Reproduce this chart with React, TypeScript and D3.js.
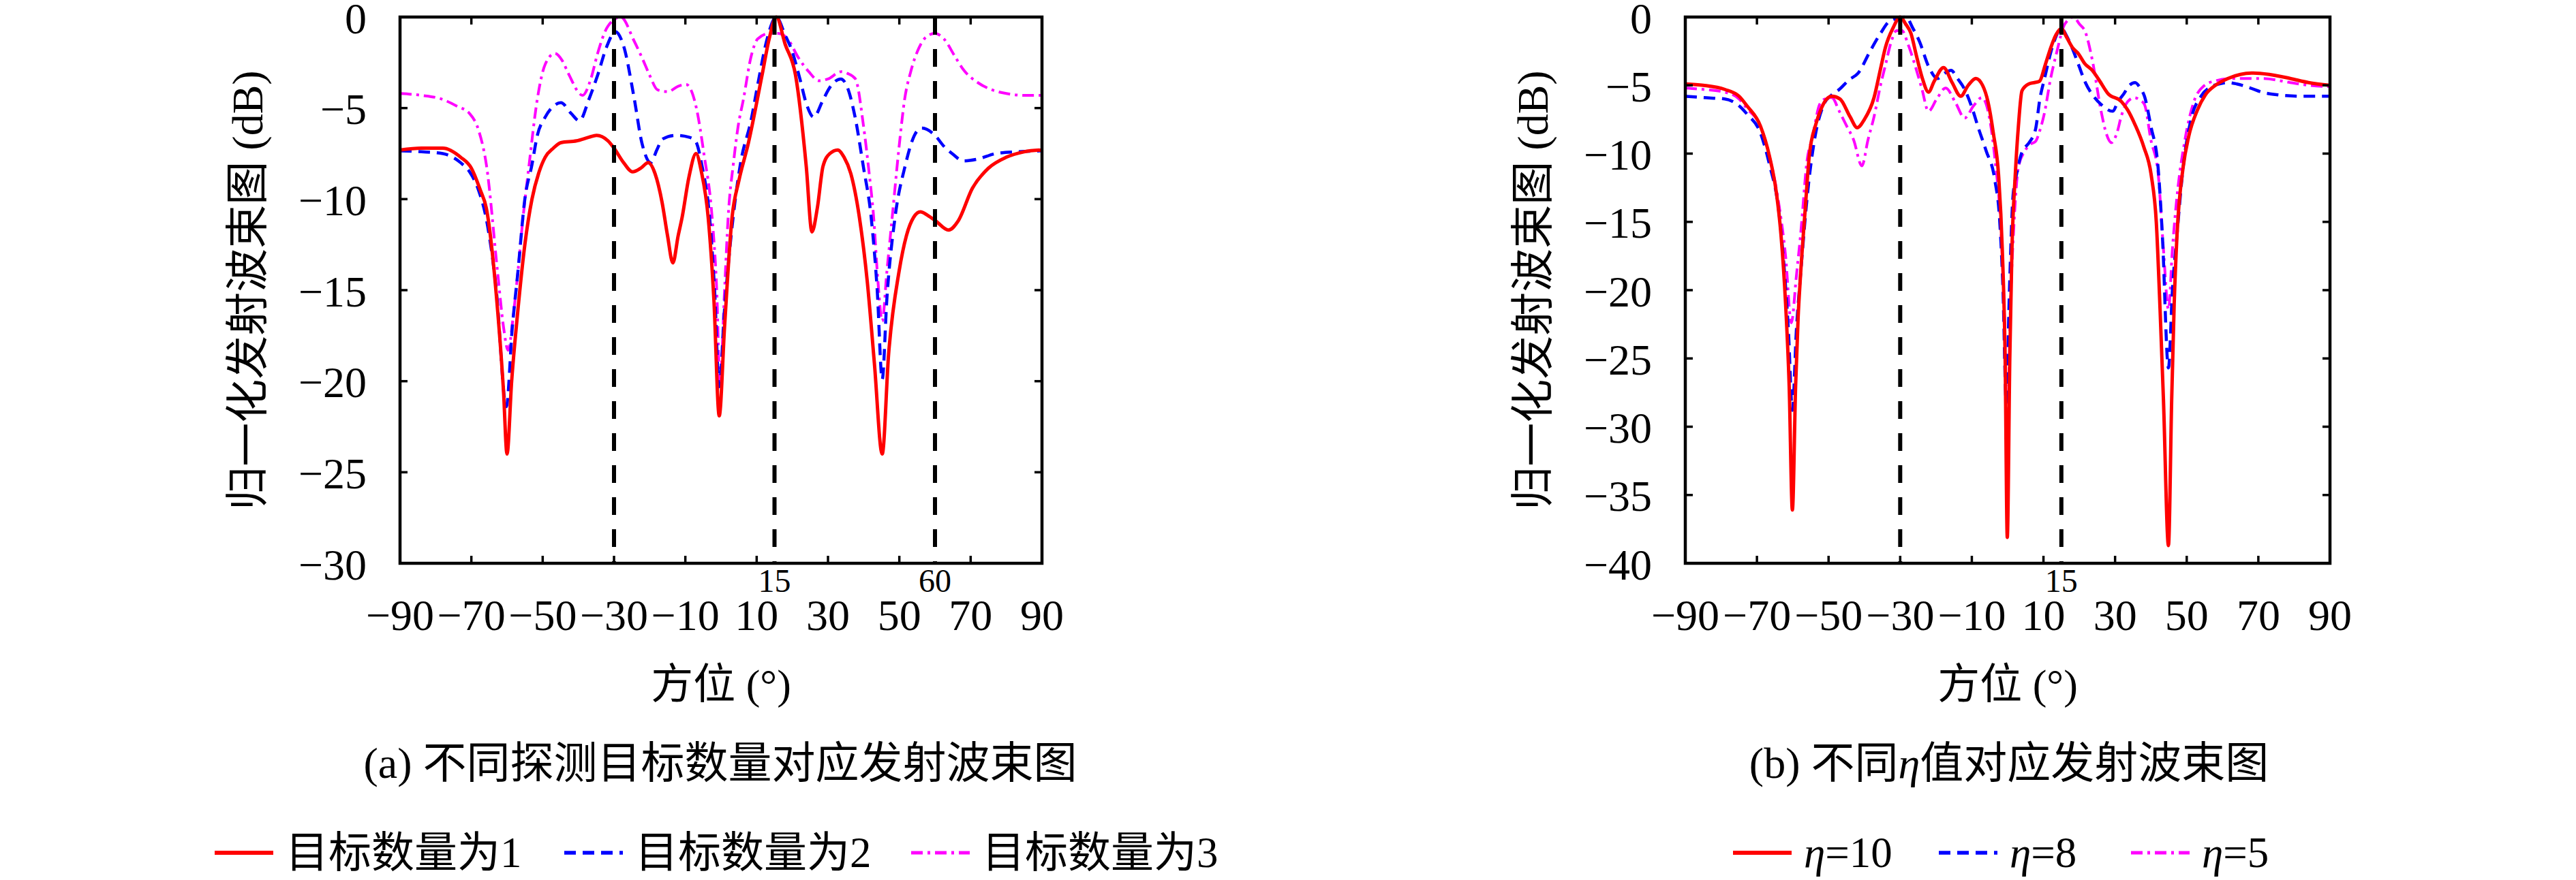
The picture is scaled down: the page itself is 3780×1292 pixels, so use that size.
import React, { useEffect } from 'react';
import * as d3 from 'd3';

type Pt = [number, number];

// ---------- data ----------
const xTickValues = [-90, -70, -50, -30, -10, 10, 30, 50, 70, 90];
const yTicksA = [0, -5, -10, -15, -20, -25, -30];
const yTicksB = [0, -5, -10, -15, -20, -25, -30, -35, -40];
const markersA = [-30, 15, 60];
const markerLabelsA = [15, 60];
const markersB = [-30, 15];
const markerLabelsB = [15];
const legendA = ['目标数量为1', '目标数量为2', '目标数量为3'];
const legendB = ['10', '8', '5'];
const captionA = '(a) 不同探测目标数量对应发射波束图';
const yLabel = '归一化发射波束图 (dB)';
const xLabel = '方位 (°)';

// (a) number of targets = 1
const aTarget1: Pt[] = [[-90,-7.3],[-84,-7.2],[-78,-7.2],[-73,-7.7],[-70,-8.3],[-67.5,-9.5],[-65.8,-10.5],[-62.6,-16.2],[-61,-20.5],[-60,-24],[-58.7,-20],[-57,-16.2],[-55,-12.5],[-53,-10],[-51,-8.5],[-49.3,-7.7],[-47,-7.2],[-44.9,-6.9],[-40.5,-6.8],[-37,-6.6],[-34.9,-6.5],[-31.7,-6.8],[-30,-7.2],[-27.3,-8.0],[-24.8,-8.5],[-22.5,-8.3],[-20.4,-8.0],[-18.5,-8.6],[-16.5,-10.2],[-15,-12],[-13.5,-13.5],[-12,-12],[-10.9,-11],[-9,-8.8],[-7,-7.5],[-5.5,-8.5],[-3.6,-11],[-2,-15.5],[-0.5,-21.9],[1,-17],[3.1,-11],[5,-9],[7.7,-6.9],[11.5,-3.2],[13.5,-1.2],[15.5,0],[18,-1.5],[20.9,-3.2],[23.9,-8.2],[25.5,-11.8],[27,-10.5],[28.6,-8.2],[30.5,-7.5],[32.7,-7.3],[34.5,-7.7],[36.4,-8.6],[38.8,-11],[41,-14.5],[43,-19],[45.2,-24],[47,-18.5],[49.9,-14],[52,-12],[54,-11],[55.9,-10.7],[58,-10.9],[60.2,-11.2],[63.8,-11.7],[66.5,-11.2],[70.5,-9.4],[75,-8.3],[80,-7.7],[85,-7.4],[90,-7.3]];

// (a) number of targets = 2
const aTarget2: Pt[] = [[-90,-7.35],[-84,-7.4],[-78,-7.5],[-73,-8],[-70.5,-8.5],[-68,-9.5],[-65.8,-11.1],[-63,-15],[-60.2,-21.4],[-58.5,-17],[-57,-14.1],[-55,-10],[-53,-8.1],[-51.5,-6.5],[-49.3,-5.5],[-47,-4.9],[-44.9,-4.7],[-42,-5.3],[-39.7,-5.7],[-37,-4.5],[-34.6,-3.2],[-32,-1.6],[-29.6,-0.8],[-27.3,-1.6],[-24.4,-4.4],[-22.2,-6.9],[-19.7,-8.0],[-18,-7.3],[-16.4,-6.7],[-12.8,-6.5],[-9,-6.6],[-7.2,-6.8],[-5.3,-8.2],[-3.2,-11],[-1.8,-15],[-0.5,-20.3],[1,-16],[3.4,-11],[5.5,-8],[8.4,-5.7],[10.5,-3.5],[12.8,-1.3],[15.5,0],[18,-1.0],[19.8,-1.8],[22,-3.3],[24,-4.8],[26,-5.5],[28.5,-4.6],[30.4,-3.9],[33.6,-3.4],[35.5,-3.9],[37.6,-5.5],[39.9,-8.2],[42.1,-11],[43.8,-15],[45.2,-19.9],[46.5,-15.5],[48.8,-11],[51.6,-8.2],[54.5,-6.4],[56.3,-6.1],[60,-6.5],[62.5,-7.1],[64.8,-7.5],[68,-7.9],[72,-7.8],[77,-7.5],[83,-7.4],[90,-7.35]];

// (a) number of targets = 3
const aTarget3: Pt[] = [[-90,-4.2],[-84,-4.3],[-78.4,-4.5],[-74,-4.9],[-70.5,-5.3],[-68,-6.2],[-65.8,-8.1],[-62.6,-14.1],[-61,-17],[-59.7,-18.3],[-58.3,-16.5],[-57,-14.1],[-55.5,-11],[-53.8,-8.1],[-51.5,-4.5],[-49.3,-2.6],[-46.6,-2.0],[-44.5,-2.4],[-42.8,-3.1],[-38.8,-4.3],[-36.5,-3.4],[-34.6,-2.0],[-31.7,-0.5],[-28.1,0],[-24.4,-1.3],[-22,-2.3],[-20,-3.2],[-17.8,-4.0],[-14.9,-4.1],[-12,-3.8],[-9.8,-3.7],[-6.9,-5.0],[-4.8,-7.5],[-2.5,-11],[-1.2,-15],[-0.3,-20.2],[1,-15],[2,-11],[3.5,-8],[4.8,-6.0],[6.3,-4.5],[8.4,-2.2],[10.3,-1.2],[13.6,-0.9],[16,-0.9],[18.7,-1.2],[21.6,-2.2],[24.6,-3.0],[27.5,-3.5],[30,-3.4],[33.7,-3.0],[35.5,-3.1],[37.7,-3.4],[39.9,-5.9],[41.5,-8.5],[42.8,-11],[44,-14.5],[45.2,-16.7],[46.5,-14],[48,-11],[50,-7],[51.5,-4.5],[53.2,-3.0],[55.5,-1.7],[57.5,-1.1],[60,-0.9],[62.5,-1.2],[65.7,-2.2],[68,-2.9],[72,-3.6],[76,-4.0],[80,-4.2],[85,-4.3],[90,-4.3]];

// (b) eta = 10
const bEta10: Pt[] = [[-90,-4.9],[-85,-5.0],[-79,-5.3],[-75,-5.8],[-72.8,-6.5],[-69,-8],[-66.5,-10.2],[-64.5,-13],[-63.3,-15.9],[-62,-21],[-61,-27],[-60.1,-36.1],[-59.2,-27],[-58.5,-22],[-57.8,-18.8],[-56.5,-14],[-55.4,-10.2],[-53.5,-7.8],[-52.2,-6.8],[-50.5,-6.0],[-49.1,-5.8],[-46.8,-6.0],[-44,-7.3],[-42,-8.1],[-40,-7.5],[-37.3,-5.9],[-35.5,-3.8],[-34.1,-2.2],[-32,-0.8],[-30,0],[-28.5,-0.5],[-27,-1.2],[-25.5,-2.8],[-23.8,-4.5],[-22.1,-5.5],[-20.5,-4.7],[-17.9,-3.7],[-15.5,-4.8],[-13.1,-5.8],[-11,-5.0],[-8.9,-4.5],[-7,-5.0],[-5.5,-6.2],[-4,-8.5],[-2.5,-11.7],[-1.5,-17],[-0.7,-25],[-0.1,-38.1],[0.6,-25],[1.2,-17],[2.1,-11.7],[3,-8],[4,-5.4],[5.9,-4.9],[7.5,-4.8],[8.9,-4.7],[10.5,-3.5],[12.1,-2.2],[13.5,-1.3],[15,-0.85],[16.5,-1.5],[18,-2.2],[19.8,-2.7],[21.5,-3.4],[23.6,-3.9],[25.5,-4.6],[28,-5.6],[31.8,-6.2],[33.5,-6.8],[35.6,-7.9],[38,-9.5],[40.1,-11.6],[41.5,-15],[42.6,-21.7],[43.5,-28],[44.9,-38.7],[45.8,-28],[46.5,-21],[47.3,-15.9],[49,-11],[50.5,-8.8],[53,-6.8],[55.2,-5.7],[58,-5.0],[61.5,-4.5],[65,-4.2],[68.6,-4.1],[73,-4.2],[78.9,-4.5],[84,-4.8],[90,-5.0]];

// (b) eta = 8
const bEta8: Pt[] = [[-90,-5.8],[-85,-5.9],[-79,-6.0],[-75,-6.5],[-72.8,-7.1],[-69,-8.5],[-66.5,-10.8],[-64,-14],[-62.5,-18],[-61.2,-23],[-60.1,-28.8],[-59,-23],[-57.8,-18.8],[-55.5,-12],[-53.8,-8.8],[-51.5,-6.5],[-49.1,-5.7],[-47,-5.3],[-44.3,-4.6],[-41.7,-4.1],[-38.6,-2.6],[-35.5,-1.2],[-32.9,-0.3],[-28.4,0],[-26.5,-0.8],[-24.6,-1.8],[-22.1,-3.6],[-19.6,-4.5],[-17.5,-4.1],[-15.8,-3.9],[-14,-4.5],[-12,-5.3],[-10,-6.6],[-8.2,-8.1],[-6,-9.8],[-3.6,-11.9],[-2.2,-15],[-1.3,-20],[-0.4,-28.2],[0.5,-20],[1.5,-13.1],[2.5,-11.5],[4.0,-9.9],[6,-9.2],[7.8,-8.2],[9,-6],[10.3,-4.5],[12.7,-2.0],[15,-0.85],[16.5,-1.4],[17.9,-2.2],[19.8,-3.5],[21.7,-4.8],[24,-5.8],[26.1,-6.4],[29.3,-6.9],[30.8,-6.2],[32.5,-5.6],[34,-5.0],[35.6,-4.8],[37,-5.2],[38.2,-5.8],[40,-8],[42,-11],[43.2,-16],[44.9,-25.7],[46,-20],[47.3,-15.9],[49,-11],[51.3,-7.4],[54,-5.8],[56.8,-5.1],[59,-4.9],[61.5,-4.8],[64,-4.9],[67.8,-5.2],[71,-5.5],[75.7,-5.7],[82,-5.8],[90,-5.8]];

// (b) eta = 5
const bEta5: Pt[] = [[-90,-5.2],[-85,-5.3],[-79,-5.5],[-75,-6.0],[-72.8,-6.7],[-69,-8],[-66.5,-10.2],[-64,-13.5],[-62,-17.5],[-60.4,-22.4],[-59,-19],[-57.8,-15.9],[-56,-10.5],[-54.5,-8.8],[-52.5,-6.4],[-51,-6.0],[-49.1,-5.9],[-47,-6.9],[-45.1,-7.9],[-43,-9],[-40.7,-10.9],[-39,-9],[-37.3,-7.3],[-35.5,-5],[-34.1,-3.5],[-32.5,-1.8],[-31,-1.0],[-29.5,-1.0],[-27.8,-2.0],[-25.9,-3.5],[-24,-5.2],[-22.1,-6.9],[-19.8,-6.0],[-17.3,-5.2],[-14.5,-6.3],[-12,-7.4],[-9.5,-6.5],[-7.2,-5.9],[-5,-7.5],[-3.5,-10.5],[-2,-15],[-1,-21],[-0.1,-30.2],[0.8,-21],[1.8,-15],[3,-11],[4.6,-9.9],[6.5,-9.3],[7.8,-9.1],[9,-8.3],[10.3,-7.0],[12,-4.5],[13.5,-2.8],[16,-0.5],[18.4,0],[20,-0.5],[21.7,-1.1],[23.6,-3.1],[26.1,-6.9],[27.5,-8.5],[29,-9.2],[30.5,-8.5],[31.8,-7.2],[33.5,-6.2],[35.4,-5.9],[37,-6.1],[38.2,-6.4],[40,-9],[42,-11.4],[43.5,-17],[44.9,-21.4],[46,-17],[47.3,-13.1],[49.5,-9],[52,-6.2],[55,-5.0],[57.6,-4.7],[63.1,-4.5],[71,-4.5],[78.9,-4.8],[84,-5.0],[90,-5.1]];

// ---------- styles ----------
const NUM_FONT = '"Liberation Serif", "Noto Sans CJK SC", serif';
const CJK_FONT = '"Liberation Serif", "Noto Sans CJK SC", sans-serif';

type LineStyle = { color: string; width: number; dash?: string };
const styles: LineStyle[] = [
  { color: '#ff0000', width: 5 },
  { color: '#0000ff', width: 4.5, dash: '17,10' },
  { color: '#ff00ff', width: 4, dash: '17,7,4,7' },
];

const fmt = (v: number) => (v < 0 ? '\u2212' + Math.abs(v) : String(v));

type PanelProps = {
  id: string;
  left: number;
  right: number;
  top: number;
  bottom: number;
  yMin: number;
  yTicks: number[];
  series: Pt[][];
  markers: number[];
  markerLabels: number[];
};

function Panel({ id, left, right, top, bottom, yMin, yTicks, series, markers, markerLabels }: PanelProps) {
  const x = d3.scaleLinear().domain([-90, 90]).range([left, right]);
  const y = d3.scaleLinear().domain([yMin, 0]).range([bottom, top]);
  const line = d3
    .line<Pt>()
    .x((d) => x(d[0]))
    .y((d) => y(d[1]))
    .curve(d3.curveMonotoneX);
  const tickLen = 11;
  const order = [2, 1, 0];
  return (
    <g>
      <defs>
        <clipPath id={'clip-' + id}>
          <rect x={left} y={top - 3} width={right - left} height={bottom - top + 3} />
        </clipPath>
      </defs>
      <g clipPath={`url(#clip-${id})`}>
        {order.map((i) => (
          <path
            key={i}
            d={line(series[i]) || ''}
            fill="none"
            stroke={styles[i].color}
            strokeWidth={styles[i].width}
            strokeDasharray={styles[i].dash}
            strokeLinejoin="round"
          />
        ))}
      </g>
      {markers.map((m) => (
        <line
          key={'m' + m}
          x1={x(m)}
          x2={x(m)}
          y1={y(0)}
          y2={y(yMin)}
          stroke="#000"
          strokeWidth={6}
          strokeDasharray="26,21"
        />
      ))}
      {/* x ticks (inside, top and bottom) */}
      {xTickValues.slice(1, -1).map((t) => (
        <g key={'xt' + t}>
          <line x1={x(t)} x2={x(t)} y1={bottom} y2={bottom - tickLen} stroke="#000" strokeWidth={3.5} />
          <line x1={x(t)} x2={x(t)} y1={top} y2={top + tickLen} stroke="#000" strokeWidth={3.5} />
        </g>
      ))}
      {yTicks.slice(1, -1).map((t) => (
        <g key={'yt' + t}>
          <line x1={left} x2={left + tickLen} y1={y(t)} y2={y(t)} stroke="#000" strokeWidth={3.5} />
          <line x1={right} x2={right - tickLen} y1={y(t)} y2={y(t)} stroke="#000" strokeWidth={3.5} />
        </g>
      ))}
      <rect x={left} y={top} width={right - left} height={bottom - top} fill="none" stroke="#000" strokeWidth={4.5} />
      {/* y tick labels */}
      {yTicks.map((t) => (
        <text
          key={'yl' + t}
          x={left - 49}
          y={y(t) + 2}
          textAnchor="end"
          dominantBaseline="central"
          fontFamily={NUM_FONT}
          fontSize={64}
          fill="#000"
        >
          {fmt(t)}
        </text>
      ))}
      {/* x tick labels */}
      {xTickValues.map((t) => (
        <text
          key={'xl' + t}
          x={x(t)}
          y={bottom + 98}
          textAnchor="middle"
          fontFamily={NUM_FONT}
          fontSize={64}
          fill="#000"
        >
          {fmt(t)}
        </text>
      ))}
      {markerLabels.map((t) => (
        <text
          key={'ml' + t}
          x={x(t)}
          y={bottom + 42}
          textAnchor="middle"
          fontFamily={NUM_FONT}
          fontSize={48}
          fill="#000"
        >
          {fmt(t)}
        </text>
      ))}
      {/* axis labels */}
      <text
        transform={`translate(${left - 224},${(top + bottom) / 2}) rotate(-90)`}
        textAnchor="middle"
        dominantBaseline="central"
        fontFamily={CJK_FONT}
        fontSize={64}
        fill="#000"
      >
        {yLabel}
      </text>
      <text
        x={(left + right) / 2}
        y={1005}
        textAnchor="middle"
        dominantBaseline="central"
        fontFamily={CJK_FONT}
        fontSize={62}
        fill="#000"
      >
        {xLabel}
      </text>
    </g>
  );
}

function LegendItem({ x0, y0, style, children }: { x0: number; y0: number; style: LineStyle; children: React.ReactNode }) {
  return (
    <g>
      <line
        x1={x0}
        x2={x0 + 86}
        y1={y0}
        y2={y0}
        stroke={style.color}
        strokeWidth={style.width + 1}
        strokeDasharray={style.dash}
      />
      <text
        x={x0 + 104}
        y={y0}
        dominantBaseline="central"
        fontFamily={CJK_FONT}
        fontSize={63}
        fill="#000"
      >
        {children}
      </text>
    </g>
  );
}

export default function App() {
  useEffect(() => {
    document.body.style.margin = '0';
  }, []);
  const W = 3780;
  const H = 1292;
  const legY = 1252;
  const legAX = [315, 828, 1337];
  const legBX = [2543, 2845, 3127];
  return (
    <svg width={W} height={H} viewBox={`0 0 ${W} ${H}`} style={{ display: 'block', background: '#fff' }}>
      <rect x={0} y={0} width={W} height={H} fill="#fff" />
      <Panel
        id="a"
        left={587}
        right={1529}
        top={25}
        bottom={827}
        yMin={-30}
        yTicks={yTicksA}
        series={[aTarget1, aTarget2, aTarget3]}
        markers={markersA}
        markerLabels={markerLabelsA}
      />
      <Panel
        id="b"
        left={2473}
        right={3419}
        top={25}
        bottom={827}
        yMin={-40}
        yTicks={yTicksB}
        series={[bEta10, bEta8, bEta5]}
        markers={markersB}
        markerLabels={markerLabelsB}
      />
      <text x={1057} y={1120} textAnchor="middle" dominantBaseline="central" fontFamily={CJK_FONT} fontSize={64} fill="#000">
        {captionA}
      </text>
      <text x={2948} y={1120} textAnchor="middle" dominantBaseline="central" fontFamily={CJK_FONT} fontSize={64} fill="#000">
        (b) 不同<tspan fontStyle="italic">η</tspan>值对应发射波束图
      </text>
      {legendA.map((t, i) => (
        <LegendItem key={'la' + i} x0={legAX[i]} y0={legY} style={styles[i]}>
          {t}
        </LegendItem>
      ))}
      {legendB.map((v, i) => (
        <LegendItem key={'lb' + i} x0={legBX[i]} y0={legY} style={styles[i]}>
          <tspan fontStyle="italic">η</tspan>={v}
        </LegendItem>
      ))}
    </svg>
  );
}
